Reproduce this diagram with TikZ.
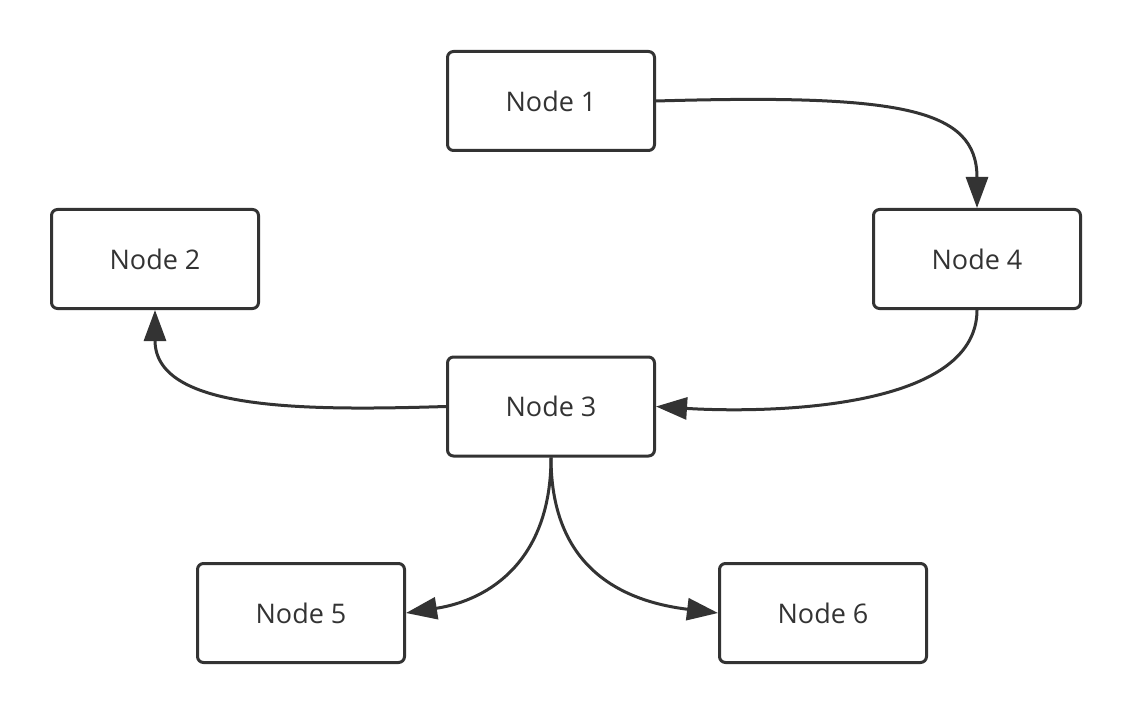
\documentclass[tikz,border=0pt]{standalone}
\usepackage{fontspec}
\setmainfont{Open Sans}
\usetikzlibrary{arrows.meta}
\definecolor{ink}{HTML}{333333}
\tikzset{
  box/.style={draw=ink, line width=3pt, rounded corners=6pt, minimum width=207pt, minimum height=99pt, inner sep=0pt, text=ink, font=\fontsize{27}{32}\selectfont},
  conn/.style={draw=ink, line width=3pt, -{Triangle[length=31pt,width=22pt]}}
}
\begin{document}
\begin{tikzpicture}[x=1pt,y=-1pt]
\useasboundingbox (0,0) rectangle (1132,714);
\node[box] (n1) at (551,101) {Node 1};
\node[box] (n2) at (155,259) {Node 2};
\node[box] (n4) at (977,259) {Node 4};
\node[box] (n3) at (551,406.5) {Node 3};
\node[box] (n5) at (301,613) {Node 5};
\node[box] (n6) at (823,613) {Node 6};
\draw[conn] (n1.east) .. controls (900,94) and (977,108) .. (n4.north);
\draw[conn] (n4.south) .. controls (977,412) and (760,413) .. (n3.east);
\draw[conn] (n3.west) .. controls (300,411) and (155,410) .. (n2.south);
\draw[conn] (n3.south) .. controls (551,560) and (490,600) .. (n5.east);
\draw[conn] (n3.south) .. controls (551,560) and (612,600) .. (n6.west);
\end{tikzpicture}
\end{document}
